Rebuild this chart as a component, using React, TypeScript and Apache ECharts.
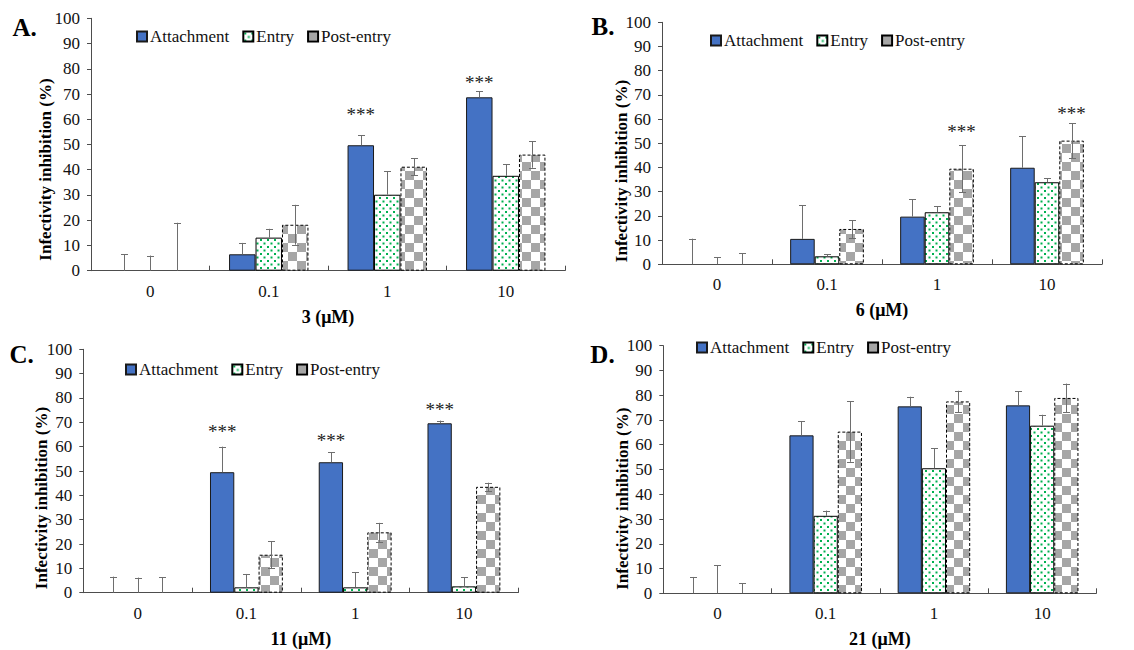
import React, { useEffect, useRef } from 'react';
import * as echarts from 'echarts';

// ---------- data ----------
const categories = ['0', '0.1', '1', '10'];
const seriesNames = ['Attachment', 'Entry', 'Post-entry'];

// Panel A: compound 3
const aAttachment = [0, 6.5, 49.7, 68.7];
const aAttachmentErr = [6.5, 4.5, 3.9, 2.4];
const aEntry = [0, 13.1, 30.1, 37.6];
const aEntryErr = [6.0, 3.5, 9.4, 4.6];
const aPost = [0, 18.2, 41.2, 46.0];
const aPostErr = [19.0, 7.9, 3.4, 5.2];
const aStars = [[2, 61.7, 0], [3, 74.5, 0]]; // [category, level, series]

// Panel B: compound 6
const bAttachment = [0, 10.5, 19.7, 39.9];
const bAttachmentErr = [10.6, 14.0, 7.2, 13.0];
const bEntry = [0, 3.3, 21.5, 33.9];
const bEntryErr = [2.9, 0.8, 2.5, 1.6];
const bPost = [0, 14.6, 39.5, 51.1];
const bPostErr = [4.5, 3.7, 9.8, 7.2];
const bStars = [[2, 54.8, 2], [3, 62.4, 2]];

// Panel C: compound 11
const cAttachment = [0, 49.5, 53.6, 69.6];
const cAttachmentErr = [6.6, 10.5, 4.1, 1.1];
const cEntry = [0, 2.2, 2.2, 2.6];
const cEntryErr = [6.2, 5.5, 6.3, 3.7];
const cPost = [0, 15.6, 24.8, 43.5];
const cPostErr = [6.4, 5.5, 3.9, 1.7];
const cStars = [[1, 66.1, 0], [2, 62.4, 0], [3, 75.1, 0]];

// Panel D: compound 21
const dAttachment = [0, 63.8, 75.5, 75.9];
const dAttachmentErr = [6.6, 5.7, 3.9, 5.7];
const dEntry = [0, 31.3, 50.5, 67.7];
const dEntryErr = [11.3, 2.1, 8.1, 4.4];
const dPost = [0, 65.3, 77.5, 78.9];
const dPostErr = [4.0, 12.2, 4.3, 5.8];
const dStars: number[][] = [];

const yTicks = { min: 0, max: 100, interval: 10 };
const panelLetters = ['A.', 'B.', 'C.', 'D.'];
const xTitles = ['3 (μM)', '6 (μM)', '11 (μM)', '21 (μM)'];
const yTitle = 'Infectivity inhibition (%)';

// ---------- layout ----------
const layouts = [
  { grid: { left: 91, top: 18.3, width: 474, height: 252.4 }, legend: { left: 131, top: 23 }, yT: [45.5, 169.5], letter: [24.7, 27.5] },
  { grid: { left: 662, top: 22.3, width: 440, height: 242 }, legend: { left: 705, top: 27 }, yT: [621, 171], letter: [603, 26.7] },
  { grid: { left: 83.3, top: 349.3, width: 435, height: 243.4 }, legend: { left: 120, top: 356 }, yT: [41, 498], letter: [21.7, 354] },
  { grid: { left: 663.3, top: 345.7, width: 433, height: 247.6 }, legend: { left: 691, top: 334 }, yT: [622.5, 498.7], letter: [602.5, 354] },
];

const GAP = 0.33;
const FONT = 'Liberation Serif';
const AXIS_COLOR = '#4d4d4d';

function makeDots(): string {
  const c = document.createElement('canvas');
  c.width = 7; c.height = 7;
  const g = c.getContext('2d')!;
  g.fillStyle = '#ffffff'; g.fillRect(0, 0, 7, 7);
  g.fillStyle = '#00B050';
  g.fillRect(1, 1, 2, 2);
  g.fillRect(4.5, 4.5, 2, 2);
  return c.toDataURL();
}
function makeChecker(): string {
  const c = document.createElement('canvas');
  c.width = 18; c.height = 18;
  const g = c.getContext('2d')!;
  g.fillStyle = '#ffffff'; g.fillRect(0, 0, 18, 18);
  g.fillStyle = '#A6A6A6';
  g.fillRect(0, 0, 9, 9);
  g.fillRect(9, 9, 9, 9);
  return c.toDataURL();
}

export default function App() {
  const ref = useRef<HTMLDivElement>(null);
  useEffect(() => {
    if (!ref.current) return;
    const chart = echarts.init(ref.current, undefined, { renderer: 'svg' });
    const dots = { image: makeDots(), repeat: 'repeat', imageWidth: 7, imageHeight: 7 };
    const checker = { image: makeChecker(), repeat: 'repeat', imageWidth: 18, imageHeight: 18 };

    const panels = [
      { vals: [aAttachment, aEntry, aPost], errs: [aAttachmentErr, aEntryErr, aPostErr], stars: aStars },
      { vals: [bAttachment, bEntry, bPost], errs: [bAttachmentErr, bEntryErr, bPostErr], stars: bStars },
      { vals: [cAttachment, cEntry, cPost], errs: [cAttachmentErr, cEntryErr, cPostErr], stars: cStars },
      { vals: [dAttachment, dEntry, dPost], errs: [dAttachmentErr, dEntryErr, dPostErr], stars: dStars },
    ];

    const styles = [
      { color: '#4472C4', borderColor: '#1a1a1a', borderWidth: 1 },
      { color: dots, borderColor: '#000', borderWidth: 1 },
      { color: checker, borderColor: '#000', borderWidth: 1, borderType: [3, 2] },
    ];

    const grids: any[] = [];
    const xAxes: any[] = [];
    const yAxes: any[] = [];
    const legends: any[] = [];
    const series: any[] = [];
    const graphics: any[] = [];

    panels.forEach((p, pi) => {
      const L = layouts[pi];
      grids.push({ ...L.grid, containLabel: false, outerBoundsMode: 'none' });
      xAxes.push({
        type: 'category', gridIndex: pi, data: categories,
        axisLine: { lineStyle: { color: AXIS_COLOR, width: 1 } },
        axisTick: { show: true, inside: true, length: 5, lineStyle: { color: AXIS_COLOR } },
        axisLabel: { fontSize: 17, color: '#111', margin: 12, fontFamily: FONT },
        name: xTitles[pi], nameLocation: 'middle', nameGap: 37,
        nameTextStyle: { fontSize: 18, fontWeight: 'bold', color: '#000', fontFamily: FONT },
      });
      yAxes.push({
        type: 'value', gridIndex: pi, min: yTicks.min, max: yTicks.max, interval: yTicks.interval,
        splitLine: { show: false },
        axisLine: { show: true, lineStyle: { color: AXIS_COLOR, width: 1 } },
        axisTick: { show: true, length: 4, lineStyle: { color: AXIS_COLOR } },
        axisLabel: { fontSize: 17, color: '#111', margin: 11, fontFamily: FONT },
      });
      legends.push({
        left: L.legend.left, top: L.legend.top, orient: 'horizontal',
        itemWidth: 10, itemHeight: 10, itemGap: 13, icon: 'rect', selectedMode: false,
        data: seriesNames,
        textStyle: { fontSize: 17, color: '#111', fontFamily: FONT, padding: [0, 0, 0, -2] },
      });
      p.vals.forEach((v, si) => {
        series.push({
          type: 'bar', name: seriesNames[si], xAxisIndex: pi, yAxisIndex: pi,
          data: v.map((val) => (val === 0 ? { value: val, itemStyle: { borderWidth: 0 } } : val)),
          barGap: '0%', barCategoryGap: (GAP * 100) + '%',
          itemStyle: styles[si],
        });
      });
      const errData: number[][] = [];
      p.vals.forEach((v, si) => {
        v.forEach((val, ci) => {
          const e = p.errs[si][ci];
          const both = si === 2 && val > 0 ? 1 : 0;
          errData.push([ci, both ? Math.max(0, val - e) : val, val + e, si, both]);
        });
      });
      series.push({
        type: 'custom', name: 'error-' + pi, xAxisIndex: pi, yAxisIndex: pi, z: 5,
        encode: { x: 0, y: [1, 2] },
        data: errData, silent: true,
        renderItem: (params: any, api: any) => {
          const ci = api.value(0), lo = api.value(1), hi = api.value(2), si = api.value(3), both = api.value(4);
          const band = api.size([1, 0])[0];
          const bw = band * (1 - GAP) / 3;
          const pTop = api.coord([ci, hi]);
          const pLo = api.coord([ci, lo]);
          const x = Math.round(pTop[0] + (si - 1) * bw) + 0.5;
          const st = { stroke: '#6e6e6e', lineWidth: 1 };
          const ch: any[] = [
            { type: 'line', shape: { x1: x, y1: pLo[1], x2: x, y2: pTop[1] }, style: st },
            { type: 'line', shape: { x1: x - 3.5, y1: Math.round(pTop[1]) + 0.5, x2: x + 3.5, y2: Math.round(pTop[1]) + 0.5 }, style: st },
          ];
          if (both) ch.push({ type: 'line', shape: { x1: x - 3.5, y1: Math.round(pLo[1]) + 0.5, x2: x + 3.5, y2: Math.round(pLo[1]) + 0.5 }, style: st });
          return { type: 'group', children: ch };
        },
      });
      if (p.stars.length) {
        series.push({
          type: 'custom', name: 'stars-' + pi, xAxisIndex: pi, yAxisIndex: pi, z: 6,
          encode: { x: 0, y: 1 }, data: p.stars, silent: true,
          renderItem: (params: any, api: any) => {
            const ci = api.value(0), lv = api.value(1), si = api.value(2);
            const band = api.size([1, 0])[0];
            const bw = band * (1 - GAP) / 3;
            const pt = api.coord([ci, lv]);
            return {
              type: 'text', x: pt[0] + (si - 1) * bw, y: pt[1],
              style: { text: '***', fontSize: 19, fontFamily: FONT, align: 'center', verticalAlign: 'middle', fill: '#222' },
            };
          },
        });
      }
      graphics.push({
        type: 'text', x: L.yT[0], y: L.yT[1], rotation: Math.PI / 2,
        style: { text: yTitle, fontSize: 17, fontWeight: 'bold', fontFamily: FONT, fill: '#000', align: 'center', verticalAlign: 'middle' },
      });
      graphics.push({
        type: 'text', x: L.letter[0], y: L.letter[1],
        style: { text: panelLetters[pi], fontSize: 25, fontWeight: 'bold', fontFamily: FONT, fill: '#000', align: 'center', verticalAlign: 'middle' },
      });
    });

    chart.setOption({
      animation: false,
      backgroundColor: '#ffffff',
      textStyle: { fontFamily: FONT },
      grid: grids, xAxis: xAxes, yAxis: yAxes, legend: legends, series, graphic: graphics,
    });
    return () => chart.dispose();
  }, []);
  return <div ref={ref} style={{ position: 'absolute', left: 0, top: 0, width: 1134, height: 650 }} />;
}
